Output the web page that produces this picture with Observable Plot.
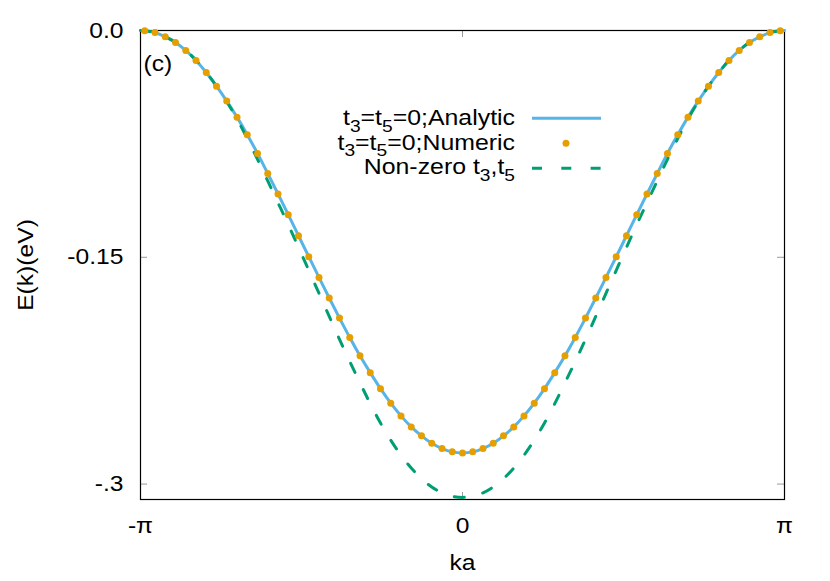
<!DOCTYPE html>
<html><head><meta charset="utf-8">
<script src="https://cdn.jsdelivr.net/npm/d3@7"></script>
<script src="https://cdn.jsdelivr.net/npm/@observablehq/plot@0.6"></script>
<style>html,body{margin:0;padding:0;background:#fff}#chart svg{display:block}</style>
</head><body><div id="chart"></div>
<script>
// ---- data ----
const kaDots = [-3.1,-3.0,-2.9,-2.8,-2.7,-2.6,-2.5,-2.4,-2.3,-2.2,-2.1,-2.0,-1.9,-1.8,-1.7,-1.6,-1.5,-1.4,-1.3,-1.2,-1.1,-1.0,-0.9,-0.8,-0.7,-0.6,-0.5,-0.4,-0.3,-0.2,-0.1,
  0,0.1,0.2,0.3,0.4,0.5,0.6,0.7,0.8,0.9,1.0,1.1,1.2,1.3,1.4,1.5,1.6,1.7,1.8,1.9,2.0,2.1,2.2,2.3,2.4,2.5,2.6,2.7,2.8,2.9,3.0,3.1];
const eNumeric = [-0.0002,-0.0014,-0.0042,-0.0079,-0.0132,-0.0198,-0.0278,-0.0368,-0.0467,-0.0573,-0.0690,-0.0813,-0.0946,-0.1081,-0.1218,-0.1357,-0.1496,-0.1633,-0.1769,-0.1902,-0.2030,-0.2151,-0.2263,-0.2369,-0.2465,-0.2549,-0.2622,-0.2681,-0.2730,-0.2765,-0.2787,
  -0.2794,
  -0.2787,-0.2765,-0.2730,-0.2681,-0.2622,-0.2549,-0.2465,-0.2369,-0.2263,-0.2151,-0.2030,-0.1902,-0.1769,-0.1633,-0.1496,-0.1357,-0.1218,-0.1081,-0.0946,-0.0813,-0.0690,-0.0573,-0.0467,-0.0368,-0.0278,-0.0198,-0.0132,-0.0079,-0.0042,-0.0014,-0.0002];

const kaLine = [-3.1416,-3.1,-3.0,-2.9,-2.8,-2.7,-2.6,-2.5,-2.4,-2.3,-2.2,-2.1,-2.0,-1.9,-1.8,-1.7,-1.6,-1.5,-1.4,-1.3,-1.2,-1.1,-1.0,-0.9,-0.8,-0.7,-0.6,-0.5,-0.4,-0.3,-0.2,-0.1,
  0,0.1,0.2,0.3,0.4,0.5,0.6,0.7,0.8,0.9,1.0,1.1,1.2,1.3,1.4,1.5,1.6,1.7,1.8,1.9,2.0,2.1,2.2,2.3,2.4,2.5,2.6,2.7,2.8,2.9,3.0,3.1,3.1416];
const eAnalytic = [0,-0.0002,-0.0014,-0.0042,-0.0079,-0.0132,-0.0198,-0.0278,-0.0368,-0.0467,-0.0573,-0.0690,-0.0813,-0.0946,-0.1081,-0.1218,-0.1357,-0.1496,-0.1633,-0.1769,-0.1902,-0.2030,-0.2151,-0.2263,-0.2369,-0.2465,-0.2549,-0.2622,-0.2681,-0.2730,-0.2765,-0.2787,
  -0.2794,
  -0.2787,-0.2765,-0.2730,-0.2681,-0.2622,-0.2549,-0.2465,-0.2369,-0.2263,-0.2151,-0.2030,-0.1902,-0.1769,-0.1633,-0.1496,-0.1357,-0.1218,-0.1081,-0.0946,-0.0813,-0.0690,-0.0573,-0.0467,-0.0368,-0.0278,-0.0198,-0.0132,-0.0079,-0.0042,-0.0014,-0.0002,0];
const eNonZero = [0,-0.0002,-0.0013,-0.0041,-0.0078,-0.0131,-0.0197,-0.0278,-0.0368,-0.0471,-0.0586,-0.0715,-0.0852,-0.0995,-0.1139,-0.1284,-0.1434,-0.1586,-0.1738,-0.1891,-0.2043,-0.2189,-0.2330,-0.2468,-0.2596,-0.2710,-0.2809,-0.2894,-0.2964,-0.3019,-0.3058,-0.3081,
  -0.3088,
  -0.3081,-0.3058,-0.3019,-0.2964,-0.2894,-0.2809,-0.2710,-0.2596,-0.2468,-0.2330,-0.2189,-0.2043,-0.1891,-0.1738,-0.1586,-0.1434,-0.1284,-0.1139,-0.0995,-0.0852,-0.0715,-0.0586,-0.0471,-0.0368,-0.0278,-0.0197,-0.0131,-0.0078,-0.0041,-0.0013,-0.0002,0];

const xTicks = [-Math.PI, 0, Math.PI];
const xTickLabels = ["-\u03c0", "0", "\u03c0"];
const yTicks = [0, -0.15, -0.3];
const yTickLabels = ["0.0", "-0.15", "-.3"];
const seriesNames = ["Analytic", "Numeric", "Non-zero"];
const xLabel = "ka";
const yLabel = "E(k)(eV)";
const panelLabel = "(c)";

// ---- build tables ----
const numeric = kaDots.map((k, i) => ({ka: k, E: eNumeric[i]}));
const analytic = kaLine.map((k, i) => ({ka: k, E: eAnalytic[i]}));
const nonzero = kaLine.map((k, i) => ({ka: k, E: eNonZero[i]}));
const xFmt = new Map(xTicks.map((d, i) => [d, xTickLabels[i]]));
const yFmt = new Map(yTicks.map((d, i) => [d, yTickLabels[i]]));

const BLUE = "#56b4e9", ORANGE = "#e69f00", GREEN = "#009e73", TICK = "#9a9a9a";
const FONT = "'Liberation Sans', Arial, Helvetica, sans-serif";
const FS = 22;

const chart = Plot.plot({
  width: 830, height: 581,
  marginLeft: 140, marginRight: 46, marginTop: 30, marginBottom: 82,
  style: {fontFamily: FONT, fontSize: FS + "px", color: "black", background: "white", overflow: "visible"},
  x: {domain: [-Math.PI, Math.PI]},
  y: {domain: [-0.3102, 0]},
  marks: [
    // inward tick marks (gnuplot style) on all four sides
    Plot.ruleY(yTicks, {y: d => d, stroke: TICK, insetRight: 637}),
    Plot.ruleY(yTicks, {y: d => d, stroke: TICK, insetLeft: 637}),
    Plot.ruleX(xTicks, {x: d => d, stroke: TICK, insetTop: 462}),
    Plot.ruleX(xTicks, {x: d => d, stroke: TICK, insetBottom: 462}),
    Plot.frame({stroke: "black", strokeWidth: 1.2}),
    Plot.axisY(yTicks, {anchor: "left", tickSize: 0, tickPadding: 17, tickFormat: d => yFmt.get(d), label: null, fontSize: FS}),
    Plot.axisX(xTicks, {anchor: "bottom", tickSize: 0, tickPadding: 18, tickFormat: d => xFmt.get(d), label: null, fontSize: FS}),
    Plot.text([yLabel], {frameAnchor: "left", dx: -115, rotate: -90, textAnchor: "middle", lineAnchor: "middle", fontSize: FS}),
    Plot.text([xLabel], {frameAnchor: "bottom", dy: 63, lineAnchor: "middle", fontSize: FS}),
    Plot.text([panelLabel], {frameAnchor: "top-left", dx: 3, dy: 33, textAnchor: "start", lineAnchor: "middle", fontSize: FS}),
    Plot.line(analytic, {x: "ka", y: "E", stroke: BLUE, strokeWidth: 3, curve: "catmull-rom"}),
    Plot.line(nonzero, {x: "ka", y: "E", stroke: GREEN, strokeWidth: 3, strokeDasharray: "10,19", curve: "catmull-rom"}),
    Plot.dot(numeric, {x: "ka", y: "E", r: 3.5, fill: ORANGE, stroke: "none"})
  ]
});

// widen glyphs horizontally to match the reference's stretched lettering
const SX = 1.12;
chart.querySelectorAll("text").forEach(t => {
  const tr = t.getAttribute("transform");
  if (tr) t.setAttribute("transform", tr + ` scale(${SX},1)`);
  else {
    const x = +t.getAttribute("x") || 0, y = +t.getAttribute("y") || 0;
    t.removeAttribute("x"); t.removeAttribute("y");
    t.setAttribute("transform", `translate(${x},${y}) scale(${SX},1)`);
  }
});

// ---- key (inside the frame, as in the reference) ----
const svg = d3.select(chart);
const key = svg.append("g").attr("font-family", FONT).attr("font-size", FS).attr("fill", "black");
const rows = [
  {parts: [["t"], ["3", 1], ["=t"], ["5", 1], ["=0;" + seriesNames[0]]], kind: "line"},
  {parts: [["t"], ["3", 1], ["=t"], ["5", 1], ["=0;" + seriesNames[1]]], kind: "dot"},
  {parts: [[seriesNames[2] + " t"], ["3", 1], [",t"], ["5", 1]], kind: "dash"}
];
const baselines = [125, 149.7, 174.3];
const centers = [118.3, 143.3, 168.3];
rows.forEach((row, r) => {
  const t = key.append("text").attr("text-anchor", "end")
    .attr("transform", `translate(515,${baselines[r]}) scale(1.13,1)`);
  let shifted = false;
  row.parts.forEach(([s, sub]) => {
    const ts = t.append("tspan").text(s);
    if (sub) { ts.attr("font-size", 17).attr("dy", shifted ? 0 : 6.5); shifted = true; }
    else { if (shifted) ts.attr("dy", -6.5); shifted = false; }
  });
  if (row.kind === "line") key.append("line").attr("x1", 532).attr("x2", 601).attr("y1", centers[r]).attr("y2", centers[r]).attr("stroke", BLUE).attr("stroke-width", 3);
  if (row.kind === "dot") key.append("circle").attr("cx", 566).attr("cy", centers[r]).attr("r", 3.5).attr("fill", ORANGE);
  if (row.kind === "dash") key.append("line").attr("x1", 532).attr("x2", 601).attr("y1", centers[r]).attr("y2", centers[r]).attr("stroke", GREEN).attr("stroke-width", 3).attr("stroke-dasharray", "10,19.3");
});

document.getElementById("chart").appendChild(chart);
</script></body></html>
